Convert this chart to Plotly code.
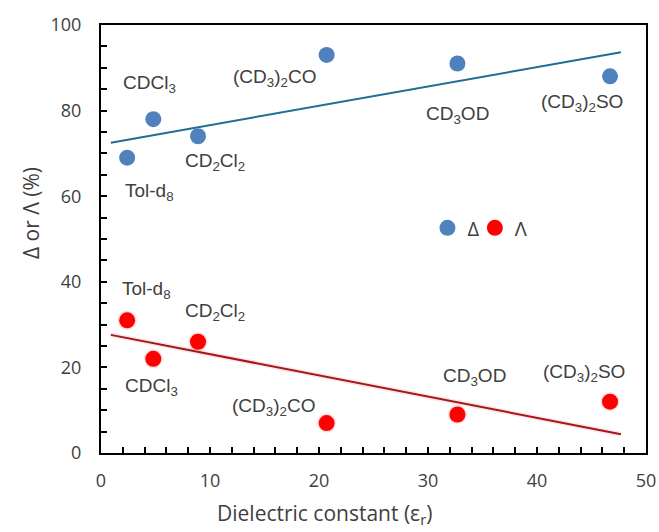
import numpy as np
import plotly.graph_objects as go

# Solvents and their dielectric constants
solvents = ["Tol-d<sub>8</sub>", "CDCl<sub>3</sub>", "CD<sub>2</sub>Cl<sub>2</sub>",
            "(CD<sub>3</sub>)<sub>2</sub>CO", "CD<sub>3</sub>OD", "(CD<sub>3</sub>)<sub>2</sub>SO"]
eps_r = [2.4, 4.8, 8.9, 20.7, 32.7, 46.7]

# Isomer fractions (%)
delta_pct = [69, 78, 74, 93, 91, 88]
lambda_pct = [31, 22, 26, 7, 9, 12]

# Linear trend lines (slope, intercept)
delta_trend = (0.451, 72.1)
lambda_trend = (-0.496, 28.05)

# Pixel offsets for the data labels (dx, dy; dy positive = up)
delta_label_off = [(22, -34), (-4, 35), (17, -26), (-52, -23), (0, -51), (-28, -27)]
lambda_label_off = [(19, 30), (-2, -28), (17, 30), (-53, 16), (17, 37), (-26, 29)]

BLUE = "#4F81BD"
RED = "#FF0000"
BLUE_LINE = "#1F6E93"
RED_LINE = "#A3171B"
TXT = "#404040"
UI_FONT = "Open Sans, sans-serif"
TICK_FONT = dict(family=UI_FONT, size=18, color="#404040")
TITLE_FONT = dict(family=UI_FONT, size=21, color=TXT)
LABEL_FONT = dict(family="Liberation Sans, Arial", size=19, color=TXT)

fig = go.Figure()

trend_x = np.array([min(eps_r) - 1.5, max(eps_r) + 1.0])

# Trend lines
fig.add_trace(go.Scatter(x=trend_x, y=delta_trend[0] * trend_x + delta_trend[1],
                         mode="lines", line=dict(color=BLUE_LINE, width=2),
                         showlegend=False, hoverinfo="skip"))
# soft glow under the red trend line
fig.add_trace(go.Scatter(x=trend_x, y=lambda_trend[0] * trend_x + lambda_trend[1],
                         mode="lines", line=dict(color="rgba(255,90,90,0.15)", width=5),
                         showlegend=False, hoverinfo="skip"))
fig.add_trace(go.Scatter(x=trend_x, y=lambda_trend[0] * trend_x + lambda_trend[1],
                         mode="lines", line=dict(color=RED_LINE, width=2),
                         showlegend=False, hoverinfo="skip"))

# Glow around the red markers
fig.add_trace(go.Scatter(x=eps_r, y=lambda_pct, mode="markers",
                         marker=dict(color="rgba(255,60,60,0.18)", size=19, line=dict(width=0)),
                         showlegend=False, hoverinfo="skip"))

fig.add_trace(go.Scatter(x=eps_r, y=delta_pct, mode="markers", name="Δ",
                         marker=dict(color=BLUE, size=16, line=dict(width=0)),
                         legend="legend"))
fig.add_trace(go.Scatter(x=eps_r, y=lambda_pct, mode="markers", name="Λ",
                         marker=dict(color=RED, size=16, line=dict(width=0)),
                         legend="legend2"))

annotations = []
for name, x, y, (dx, dy) in zip(solvents, eps_r, delta_pct, delta_label_off):
    annotations.append(dict(x=x, y=y, text=name, showarrow=False, xshift=dx, yshift=dy,
                            font=LABEL_FONT))
for name, x, y, (dx, dy) in zip(solvents, eps_r, lambda_pct, lambda_label_off):
    annotations.append(dict(x=x, y=y, text=name, showarrow=False, xshift=dx, yshift=dy,
                            font=LABEL_FONT))

# Axis titles, placed relative to the whole chart area
annotations.append(dict(text="Dielectric constant (ε<sub>r</sub>)", xref="paper", yref="paper",
                        x=0.41, y=-0.142, xanchor="center", yanchor="middle",
                        showarrow=False, font=TITLE_FONT))
annotations.append(dict(text="Δ or Λ (%)", xref="paper", yref="paper",
                        x=-0.127, y=0.56, xanchor="center", yanchor="middle",
                        textangle=-90, showarrow=False, font=TITLE_FONT))

legend_style = dict(orientation="h", yanchor="middle", xanchor="left",
                    bgcolor="rgba(0,0,0,0)", borderwidth=0,
                    font=dict(family=UI_FONT, size=20, color=TXT))

fig.update_layout(
    width=659, height=532,
    margin=dict(l=101, r=13, t=25, b=79),
    paper_bgcolor="white", plot_bgcolor="white",
    annotations=annotations,
    legend=dict(x=0.599, y=0.526, **legend_style),
    legend2=dict(x=0.686, y=0.526, **legend_style),
    xaxis=dict(range=[0, 50], dtick=10, showgrid=False, zeroline=False, automargin=False,
               showline=True, linecolor="black", linewidth=2, mirror=True,
               ticks="inside", ticklen=6, tickwidth=1.5, tickcolor="black",
               minor=dict(dtick=2, ticks="inside", ticklen=6, tickwidth=1.5, tickcolor="black"),
               tickfont=TICK_FONT, ticklabelstandoff=10),
    yaxis=dict(range=[0, 100], dtick=20, showgrid=False, zeroline=False, automargin=False,
               showline=True, linecolor="black", linewidth=2, mirror=True,
               ticks="inside", ticklen=6, tickwidth=1.5, tickcolor="black",
               minor=dict(dtick=5, ticks="inside", ticklen=6, tickwidth=1.5, tickcolor="black"),
               tickfont=TICK_FONT, ticklabelstandoff=14),
)

fig.write_html("out.html")
